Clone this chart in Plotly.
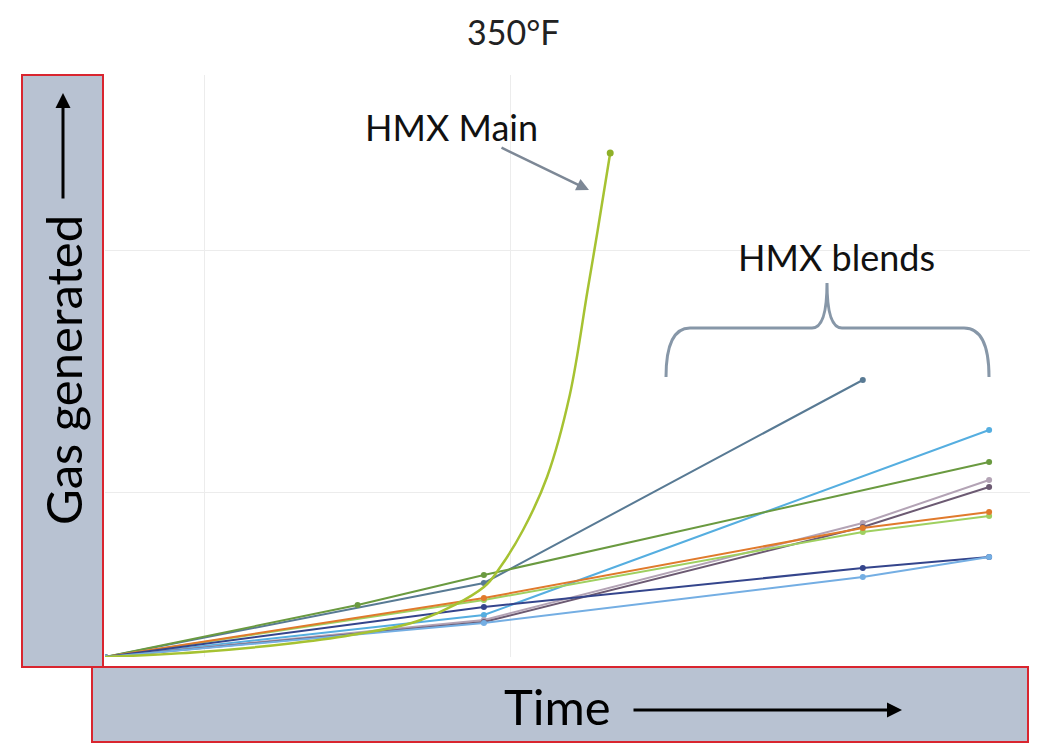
import plotly.graph_objects as go

# ---- data (schematic: arbitrary time units / gas units) ----
x_main = [0, 0.75, 1.5, 2.0, 2.5, 3.0, 3.13, 3.31, 3.5, 3.68, 3.82, 3.9, 4.0]
y_main = [0, 0.05, 0.14, 0.23, 0.37, 0.70, 0.90, 1.27, 1.80, 2.62, 3.66, 4.26, 5.04]

x_steel = [0, 3, 6]
y_steel = [0, 0.74, 2.77]

x_ltblue = [0, 3, 7]
y_ltblue = [0, 0.42, 2.27]

x_green = [0, 2, 3, 7]
y_green = [0, 0.52, 0.82, 1.95]

x_blend = [0, 3, 6, 7]
y_pink = [0, 0.37, 1.34, 1.77]
y_plum = [0, 0.35, 1.30, 1.70]
y_orange = [0, 0.59, 1.29, 1.45]
y_lime = [0, 0.57, 1.25, 1.41]
y_navy = [0, 0.50, 0.89, 1.00]
y_sky = [0, 0.34, 0.80, 1.00]

grid_x = [0.79, 3.21]
grid_y = [1.65, 4.07]

# ---- figure geometry helpers (pixel -> paper) ----
W, H = 1038, 745
L, R, T, B = 105, 8, 75, 88
PW, PH = W - L - R, H - T - B
def px(x):
    return (x - L) / PW
def py(y):
    return (H - B - y) / PH

fig = go.Figure()

blends = [
    (x_steel, y_steel, "#587a94"),
    (x_ltblue, y_ltblue, "#55aee0"),
    (x_green, y_green, "#6a9a40"),
    (x_blend, y_pink, "#b3a3b5"),
    (x_blend, y_plum, "#6c5a72"),
    (x_blend, y_lime, "#9fd060"),
    (x_blend, y_orange, "#e07a2c"),
    (x_blend, y_navy, "#34458c"),
    (x_blend, y_sky, "#74aee3"),
]
for xs, ys, c in blends:
    fig.add_trace(go.Scatter(x=xs, y=ys, mode="lines+markers",
                             line=dict(color=c, width=2),
                             marker=dict(color=c, size=6),
                             showlegend=False, hoverinfo="skip"))

fig.add_trace(go.Scatter(x=x_main, y=y_main, mode="lines",
                         line=dict(color="#a6c232", width=2.5, shape="spline", smoothing=1.0),
                         showlegend=False, hoverinfo="skip"))
fig.add_trace(go.Scatter(x=[x_main[-1]], y=[y_main[-1]], mode="markers",
                         marker=dict(color="#8fb028", size=7),
                         showlegend=False, hoverinfo="skip"))

fig.update_xaxes(range=[0, PW / 126.3], tickvals=grid_x, showticklabels=False,
                 showgrid=True, gridcolor="#ececec", zeroline=False, showline=False, ticks="")
fig.update_yaxes(range=[0, PH / 100.0], tickvals=grid_y, showticklabels=False,
                 showgrid=True, gridcolor="#ececec", zeroline=False, showline=False, ticks="")

box_fill = "#b8c2d2"
red = "#d9252f"
shapes = [
    dict(type="rect", xref="paper", yref="paper", x0=px(22), x1=px(103), y0=py(667), y1=py(75),
         fillcolor=box_fill, line=dict(color=red, width=2), layer="below"),
    dict(type="rect", xref="paper", yref="paper", x0=px(92), x1=px(1028), y0=py(742), y1=py(667),
         fillcolor=box_fill, line=dict(color=red, width=2), layer="below"),
]
# bracket for HMX blends
pts = lambda a, b: f"{px(a)},{py(b)}"
path = ("M " + pts(666, 377) + " Q " + pts(666, 328) + " " + pts(690, 328) +
        " L " + pts(812, 328) + " Q " + pts(827, 328) + " " + pts(827, 283) +
        " Q " + pts(827, 328) + " " + pts(842, 328) + " L " + pts(964, 328) +
        " Q " + pts(989, 328) + " " + pts(989, 377))
shapes.append(dict(type="path", xref="paper", yref="paper", path=path,
                   line=dict(color="#8797a8", width=3)))
fig.update_layout(shapes=shapes)

font = "Lato, 'Open Sans', sans-serif"
ann = [
    dict(text="350°F", x=px(513), y=py(31), xref="paper", yref="paper", showarrow=False,
         font=dict(family=font, size=34, color="#222"), xanchor="center", yanchor="middle"),
    dict(text="HMX Main", x=px(451), y=py(127), xref="paper", yref="paper", showarrow=False,
         font=dict(family=font, size=36, color="#111"), xanchor="center", yanchor="middle"),
    dict(text="HMX blends", x=px(836), y=py(257), xref="paper", yref="paper", showarrow=False,
         font=dict(family=font, size=36, color="#111"), xanchor="center", yanchor="middle"),
    # arrow to HMX Main
    dict(text="", x=px(589), y=py(190), xref="paper", yref="paper", showarrow=True,
         ax=-89, ay=-43, axref="pixel", ayref="pixel",
         arrowhead=2, arrowsize=1, arrowwidth=2.5, arrowcolor="#7d8896"),
    dict(text="Gas generated", x=px(63), y=py(370), xref="paper", yref="paper", showarrow=False,
         textangle=-90, font=dict(family=font, size=49, color="#000"), xanchor="center", yanchor="middle"),
    dict(text="", x=px(63), y=py(93), xref="paper", yref="paper", showarrow=True,
         ax=0, ay=107, axref="pixel", ayref="pixel",
         arrowhead=2, arrowsize=1, arrowwidth=3, arrowcolor="#000"),
    dict(text="Time", x=px(557), y=py(706), xref="paper", yref="paper", showarrow=False,
         font=dict(family=font, size=49, color="#000"), xanchor="center", yanchor="middle"),
    dict(text="", x=px(902), y=py(710), xref="paper", yref="paper", showarrow=True,
         ax=-270, ay=0, axref="pixel", ayref="pixel",
         arrowhead=2, arrowsize=1, arrowwidth=3, arrowcolor="#000"),
]
fig.update_layout(annotations=ann, width=W, height=H,
                  margin=dict(l=L, r=R, t=T, b=B),
                  paper_bgcolor="white", plot_bgcolor="white")

fig.write_html("out.html", config={"displayModeBar": False},
               post_script="document.body.style.margin='0';")
